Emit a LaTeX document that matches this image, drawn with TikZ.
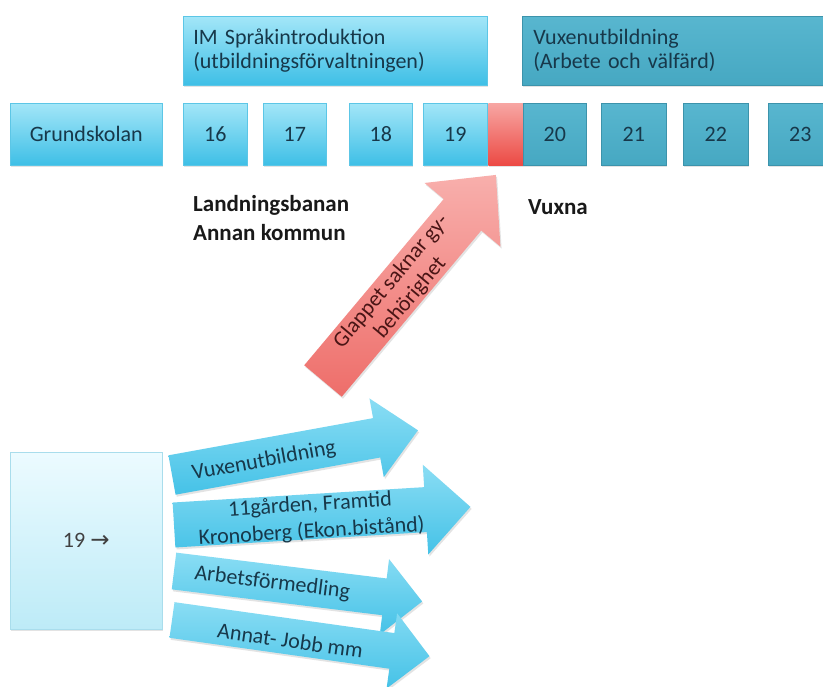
\documentclass[tikz,border=0pt]{standalone}
\usepackage{fontspec}
\setmainfont{Carlito}
\newfontfamily\symfont{DejaVu Sans}
\usetikzlibrary{shadows}
\definecolor{lbtop}{HTML}{A3E6F8}
\definecolor{lbbot}{HTML}{3EBFE6}
\definecolor{lbline}{HTML}{5CC6E6}
\definecolor{tltop}{HTML}{58B6CF}
\definecolor{tlbot}{HTML}{46A8C2}
\definecolor{tlline}{HTML}{3C93AB}
\definecolor{rdtop}{HTML}{F7A6A3}
\definecolor{rdbot}{HTML}{EC4A44}
\definecolor{boxtext}{HTML}{17384A}
\definecolor{pltop}{HTML}{ECFBFF}
\definecolor{plbot}{HTML}{BDEBF7}
\definecolor{plline}{HTML}{A9DDEC}
\definecolor{artop}{HTML}{8ADDF4}
\definecolor{arbot}{HTML}{45C2E7}
\definecolor{ratop}{HTML}{F8AFAC}
\definecolor{rabot}{HTML}{EE6E6A}
\definecolor{redtext}{HTML}{4A1515}
\tikzset{
  shad/.style={drop shadow={opacity=0.22, shadow xshift=1.2pt, shadow yshift=-2pt}},
  basebox/.style={rectangle, anchor=north west, inner sep=0pt, line width=0.5pt, shad, text=boxtext, font=\fontsize{22}{26}\selectfont},
  lightbox/.style={basebox, top color=lbtop, bottom color=lbbot, draw=lbline},
  tealbox/.style={basebox, top color=tltop, bottom color=tlbot, draw=tlline},
  gapbox/.style={basebox, top color=rdtop, bottom color=rdbot, draw=none},
  palebox/.style={basebox, top color=pltop, bottom color=plbot, draw=plline, text=black!75},
  sidelabel/.style={anchor=west, inner sep=0pt, font=\bfseries\fontsize{23}{29}\selectfont, align=left, text=black!90},
  bluearrow/.style={top color=artop, bottom color=arbot, shad},
  redarrow/.style={top color=ratop, bottom color=rabot, shad},
  arrowtext/.style={inner sep=0pt, font=\fontsize{22}{27}\selectfont, text=boxtext, align=center},
}
% length, half shaft, half head, head length
\newcommand\fatarrowpath[4]{(0,-#2) -- (#1-#4,-#2) -- (#1-#4,-#3) -- (#1,0) -- (#1-#4,#3) -- (#1-#4,#2) -- (0,#2) -- cycle}
\begin{document}
\begin{tikzpicture}[x=1pt,y=-1pt]
\fill[white] (0,0) rectangle (823,687);
\useasboundingbox (0,0) rectangle (823,687);
% top group boxes
\node[lightbox, minimum width=304pt, minimum height=69pt, align=left, text width=284pt, inner xsep=10pt, font=\fontsize{22}{24}\selectfont] (im) at (183,16) {IM Språkintroduktion\\(utbildningsförvaltningen)};
\node[tealbox, minimum width=312pt, minimum height=69pt, align=left, text width=290pt, inner xsep=11pt, font=\fontsize{22}{24}\selectfont] (vux) at (522,16) {Vuxenutbildning\\(Arbete och välfärd)};
% age row
\node[lightbox, minimum width=152pt, minimum height=62pt] (grund) at (10,103) {Grundskolan};
\node[lightbox, minimum width=64pt, minimum height=62pt] (a16) at (183,103) {16};
\node[lightbox, minimum width=63pt, minimum height=62pt] (a17) at (263,103) {17};
\node[lightbox, minimum width=63pt, minimum height=62pt] (a18) at (349,103) {18};
\node[lightbox, minimum width=64pt, minimum height=62pt] (a19) at (423,103) {19};
\node[gapbox, minimum width=35pt, minimum height=62pt] (gap) at (488,103) {};
\node[tealbox, minimum width=63pt, minimum height=62pt] (a20) at (523,103) {20};
\node[tealbox, minimum width=65pt, minimum height=62pt] (a21) at (601,103) {21};
\node[tealbox, minimum width=65pt, minimum height=62pt] (a22) at (683,103) {22};
\node[tealbox, minimum width=64pt, minimum height=62pt] (a23) at (768,103) {23};
% labels
\node[sidelabel] (land) at (193,218) {Landningsbanan\\Annan kommun};
\node[sidelabel] (vuxna) at (528,207) {Vuxna};
% red arrow
\begin{scope}[shift={(323,381)}, rotate=50]
\path[redarrow] \fatarrowpath{269}{24.5}{49.5}{52};
\node[arrowtext, rotate=50, text=redtext, font=\fontsize{22}{25}\selectfont] (glapp) at (120,1) {Glappet saknar gy-\\behörighet};
\end{scope}
% left box
\node[palebox, minimum width=152pt, minimum height=177pt] (from19) at (10,452) {19 {\symfont\fontsize{23}{26}\selectfont →}};
% fan arrows
\begin{scope}[shift={(172,475)}, rotate=10.3]
\path[bluearrow] \fatarrowpath{250}{20}{40}{42};
\node[arrowtext, rotate=10.3] (t1) at (93,3) {Vuxenutbildning};
\end{scope}
\begin{scope}[shift={(174,525)}, rotate=3.5]
\path[bluearrow] \fatarrowpath{297}{22.5}{45}{45};
\node[arrowtext, rotate=3.5] (t2) at (137,2) {11gården, Framtid\\Kronoberg (Ekon.bistånd)};
\end{scope}
\begin{scope}[shift={(174,571)}, rotate=-7]
\path[bluearrow] \fatarrowpath{250}{18.5}{38}{38};
\node[arrowtext, rotate=-7] (t3) at (99,0) {Arbetsförmedling};
\end{scope}
\begin{scope}[shift={(172,620)}, rotate=-8]
\path[bluearrow] \fatarrowpath{260}{18}{38}{38};
\node[arrowtext, rotate=-8] (t4) at (120,4) {Annat- Jobb mm};
\end{scope}
\end{tikzpicture}
\end{document}
